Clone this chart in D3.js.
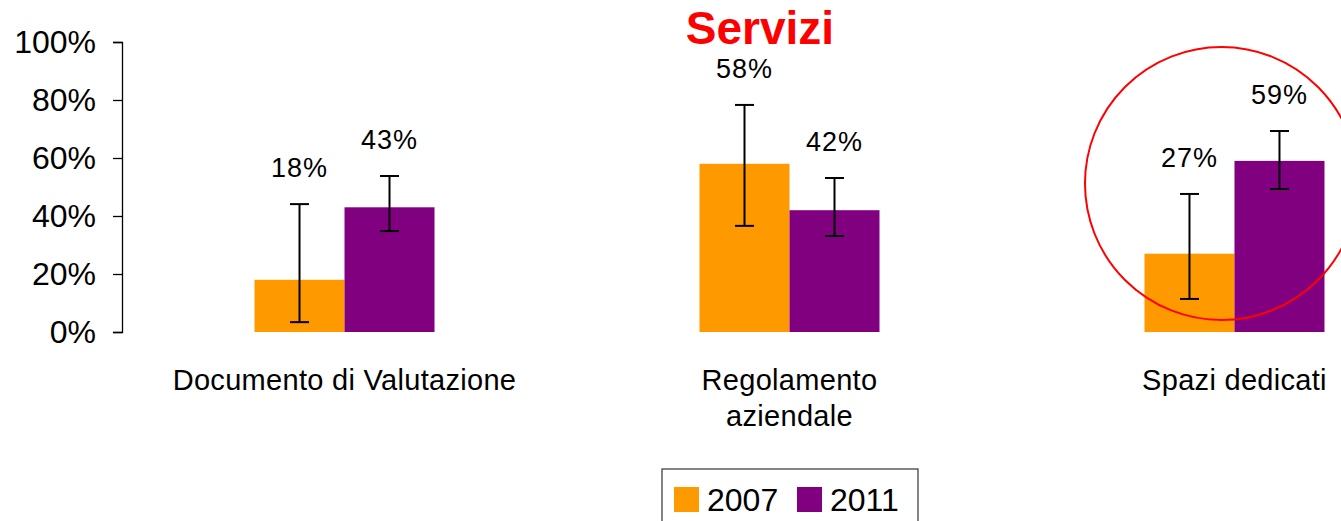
<!DOCTYPE html>
<meta charset="utf-8">
<script src="https://d3js.org/d3.v7.min.js"></script>
<style>
  body { margin: 0; background: #fff; }
  text { font-family: "Liberation Sans", Arial, sans-serif; fill: #000; }
</style>
<svg id="chart" width="1341" height="521"></svg>
<script>

// Data
var categories = [["Documento di Valutazione"], ["Regolamento", "aziendale"], ["Spazi dedicati"]];
var series = ["2007", "2011"];
var values2007 = [18, 58, 27];
var values2011 = [43, 42, 59];
var errLow2007 = [3.4, 36.6, 11.4];
var errHigh2007 = [44.1, 78.3, 47.6];
var errLow2011 = [34.8, 33.1, 49.3];
var errHigh2011 = [53.8, 53.1, 69.3];
var yTicks = [0, 20, 40, 60, 80, 100];
var colors = ["#FF9900", "#800080"];

var svg = d3.select("#chart");

// scales
var y = d3.scaleLinear().domain([0, 100]).range([332, 42]);
var x = d3.scaleBand()
  .domain(d3.range(categories.length))
  .range([122, 1457])
  .paddingInner(0.5955)
  .paddingOuter(0.2978);
var xs = d3.scaleBand().domain(series).range([0, x.bandwidth()]);

// build rows
var rows = [];
categories.forEach(function(c, i) {
  rows.push({ cat: i, s: "2007", v: values2007[i], lo: errLow2007[i], hi: errHigh2007[i], color: colors[0] });
  rows.push({ cat: i, s: "2011", v: values2011[i], lo: errLow2011[i], hi: errHigh2011[i], color: colors[1] });
});

// y axis
var yAxis = svg.append("g")
  .attr("transform", "translate(122,0)")
  .call(d3.axisLeft(y).tickValues(yTicks).tickSize(9).tickPadding(17).tickFormat(function(d) { return d + "%"; }));
yAxis.select(".domain").attr("stroke", "#000").attr("stroke-width", 1.3);
yAxis.selectAll(".tick line").attr("stroke", "#000").attr("stroke-width", 1.3);
yAxis.selectAll(".tick text")
  .style("font-size", "32px")
  .style("font-family", "Liberation Sans, Arial, sans-serif")
  .attr("fill", "#000");

// bars
svg.append("g").selectAll("rect")
  .data(rows)
  .enter().append("rect")
    .attr("x", function(d) { return x(d.cat) + xs(d.s); })
    .attr("y", function(d) { return y(d.v); })
    .attr("width", xs.bandwidth())
    .attr("height", function(d) { return y(0) - y(d.v); })
    .attr("fill", function(d) { return d.color; });

// error bars
var eb = svg.append("g").selectAll("g")
  .data(rows)
  .enter().append("g")
    .attr("stroke", "#000")
    .attr("stroke-width", 2);
function cx(d) { return x(d.cat) + xs(d.s) + xs.bandwidth() / 2; }
eb.append("line")
  .attr("x1", cx).attr("x2", cx)
  .attr("y1", function(d) { return y(d.hi); })
  .attr("y2", function(d) { return y(d.lo); });
eb.append("line")
  .attr("x1", function(d) { return cx(d) - 9.5; })
  .attr("x2", function(d) { return cx(d) + 9.5; })
  .attr("y1", function(d) { return y(d.hi); })
  .attr("y2", function(d) { return y(d.hi); });
eb.append("line")
  .attr("x1", function(d) { return cx(d) - 9.5; })
  .attr("x2", function(d) { return cx(d) + 9.5; })
  .attr("y1", function(d) { return y(d.lo); })
  .attr("y2", function(d) { return y(d.lo); });

// value labels, above the error bars
svg.append("g").selectAll("text")
  .data(rows)
  .enter().append("text")
    .attr("x", cx)
    .attr("y", function(d) { return y(d.hi) - 27; })
    .attr("text-anchor", "middle")
    .style("font-size", "27px")
    .style("letter-spacing", "1px")
    .text(function(d) { return d.v + "%"; });

// category labels
var cl = svg.append("g").selectAll("text")
  .data(categories)
  .enter().append("text")
    .attr("x", function(d, i) { return x(i) + x.bandwidth() / 2; })
    .attr("y", 390)
    .attr("text-anchor", "middle")
    .style("font-size", "29px")
    .style("letter-spacing", "0.3px");
cl.selectAll("tspan")
  .data(function(d) { return d; })
  .enter().append("tspan")
    .attr("x", function() { return d3.select(this.parentNode).attr("x"); })
    .attr("dy", function(d, i) { return i === 0 ? 0 : 36; })
    .text(function(d) { return d; });

// title
svg.append("text")
  .attr("x", 760)
  .attr("y", 44)
  .attr("text-anchor", "middle")
  .style("font-size", "46px")
  .style("font-weight", "bold")
  .style("fill", "#FF0000")
  .text("Servizi");

// highlight circle around the last group
svg.append("circle")
  .attr("cx", x(2) + x.bandwidth() / 2 - 13)
  .attr("cy", 183.5)
  .attr("r", 136.5)
  .attr("fill", "none")
  .attr("stroke", "#FF0000")
  .attr("stroke-width", 2);

// legend
var legend = svg.append("g").attr("transform", "translate(662,469)");
legend.append("rect")
  .attr("width", 256).attr("height", 60)
  .attr("fill", "#fff").attr("stroke", "#333").attr("stroke-width", 1.2);
var li = legend.selectAll("g.item")
  .data(series)
  .enter().append("g")
    .attr("class", "item")
    .attr("transform", function(d, i) { return "translate(" + (12 + i * 123) + ",18)"; });
li.append("rect")
  .attr("width", 25).attr("height", 25)
  .attr("fill", function(d, i) { return colors[i]; });
li.append("text")
  .attr("x", 33)
  .attr("y", 24)
  .style("font-size", "32px")
  .text(function(d) { return d; });

</script>
